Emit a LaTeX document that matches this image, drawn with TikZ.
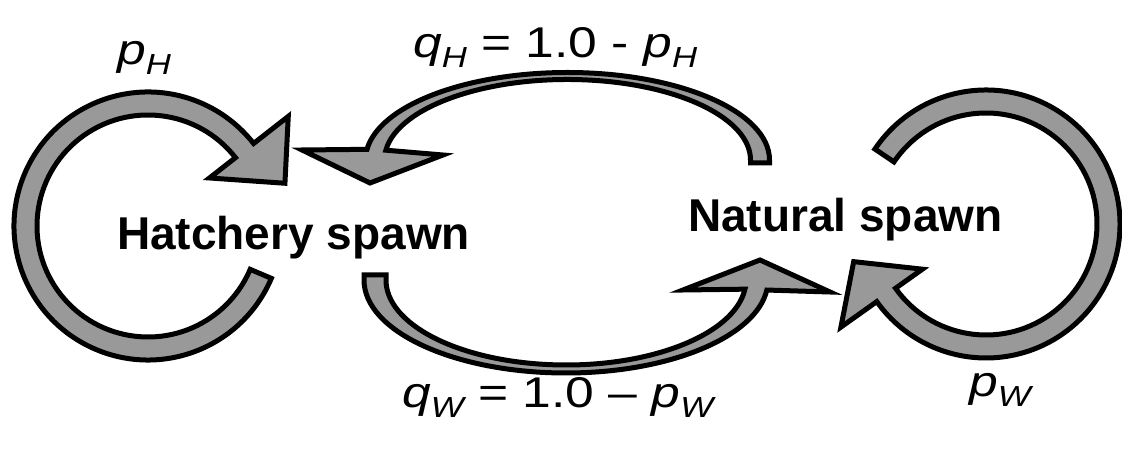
\documentclass[tikz,border=0pt]{standalone}
\usepackage{fontspec}
\setmainfont{Liberation Sans}
\usepackage{graphicx}
\usepackage{tikz}
\usetikzlibrary{calc}
\definecolor{band}{HTML}{999999}
\newcommand{\sbs}[1]{\raisebox{-0.22em}{\fontsize{29}{31}\selectfont\itshape #1}}
\newcommand{\wide}[1]{\scalebox{1.2}[1]{#1}}
\tikzset{
  state/.style={font=\fontsize{46}{50}\selectfont\bfseries,inner sep=0pt},
  prob/.style={font=\fontsize{43}{47}\selectfont,inner sep=0pt},
  blockarrow/.style={fill=band,draw=black,line width=5pt,line join=miter}
}

\begin{document}
\begin{tikzpicture}[x=1pt,y=1pt]
\useasboundingbox (0,0) rectangle (1122,449);
\node[state,anchor=base west] (hatch) at (117,199) {Hatchery spawn};
\node[state,anchor=base west] (natural) at (688,217) {Natural spawn};

\coordinate (hloop) at (148,223);
\coordinate (nloop) at (986,225);
\coordinate (qHc) at (567.5,289);
\coordinate (qWc) at (566,169);

\draw[blockarrow] ($(hloop)+(-23:134)$) arc[start angle=-23,end angle=-322,radius=134]
  -- ($(hloop)+(38:178)$) -- ($(hloop)+(38:128)+(-45:51)$) -- ($(hloop)+(38:78)$)
  -- ($(hloop)+(38:111)$) arc[start angle=-322,end angle=-23,radius=111] -- cycle;
\draw[blockarrow] ($(nloop)+(146:134)$) arc[start angle=146,end angle=-144.6,radius=134]
  -- ($(nloop)+(-144.6:178)$) -- ($(nloop)+(-144.6:128)+(127.5:46)$) -- ($(nloop)+(-144.6:78)$)
  -- ($(nloop)+(-144.6:111)$) arc[start angle=-144.6,end angle=146,radius=111] -- cycle;

\draw[blockarrow] ($(qHc)+(202,-3)$) -- ($(qHc)+(202,0)$)
  arc[start angle=0,end angle=173,x radius=202,y radius=87.5]
  -- ($(qHc)+(-265.5,10)$) -- ($(qHc)+(-197.5,-23)$) -- ($(qHc)+(-124.5,5)$)
  -- ($(qHc)+({183*cos(173)},{80.5*sin(173)})$)
  arc[start angle=173,end angle=0,x radius=183,y radius=80.5]
  -- ($(qHc)+(183,-3)$) -- cycle;
\draw[blockarrow] ($(qWc)+(-202,5)$) -- ($(qWc)+(-202,0)$)
  arc[start angle=180,end angle=353.8,x radius=202,y radius=93]
  -- ($(qWc)+(264,-12)$) -- ($(qWc)+(194,20)$) -- ($(qWc)+(117,-10)$)
  -- ($(qWc)+({180*cos(353.8)},{85*sin(353.8)})$)
  arc[start angle=353.8,end angle=180,x radius=180,y radius=85]
  -- ($(qWc)+(-180,5)$) -- cycle;

\node[prob,anchor=base west] (pH) at (117,384) {\wide{\textit{p}\sbs{H}}};
\node[prob,anchor=base west] (qH) at (413,391) {\wide{\textit{q}\sbs{H} = 1.0 - \textit{p}\sbs{H}}};
\node[prob,anchor=base west] (qW) at (402,41) {\wide{\textit{q}\sbs{W} = 1.0 – \textit{p}\sbs{W}}};
\node[prob,anchor=base west] (pW) at (969,52) {\wide{\textit{p}\sbs{W}}};
\end{tikzpicture}
\end{document}
